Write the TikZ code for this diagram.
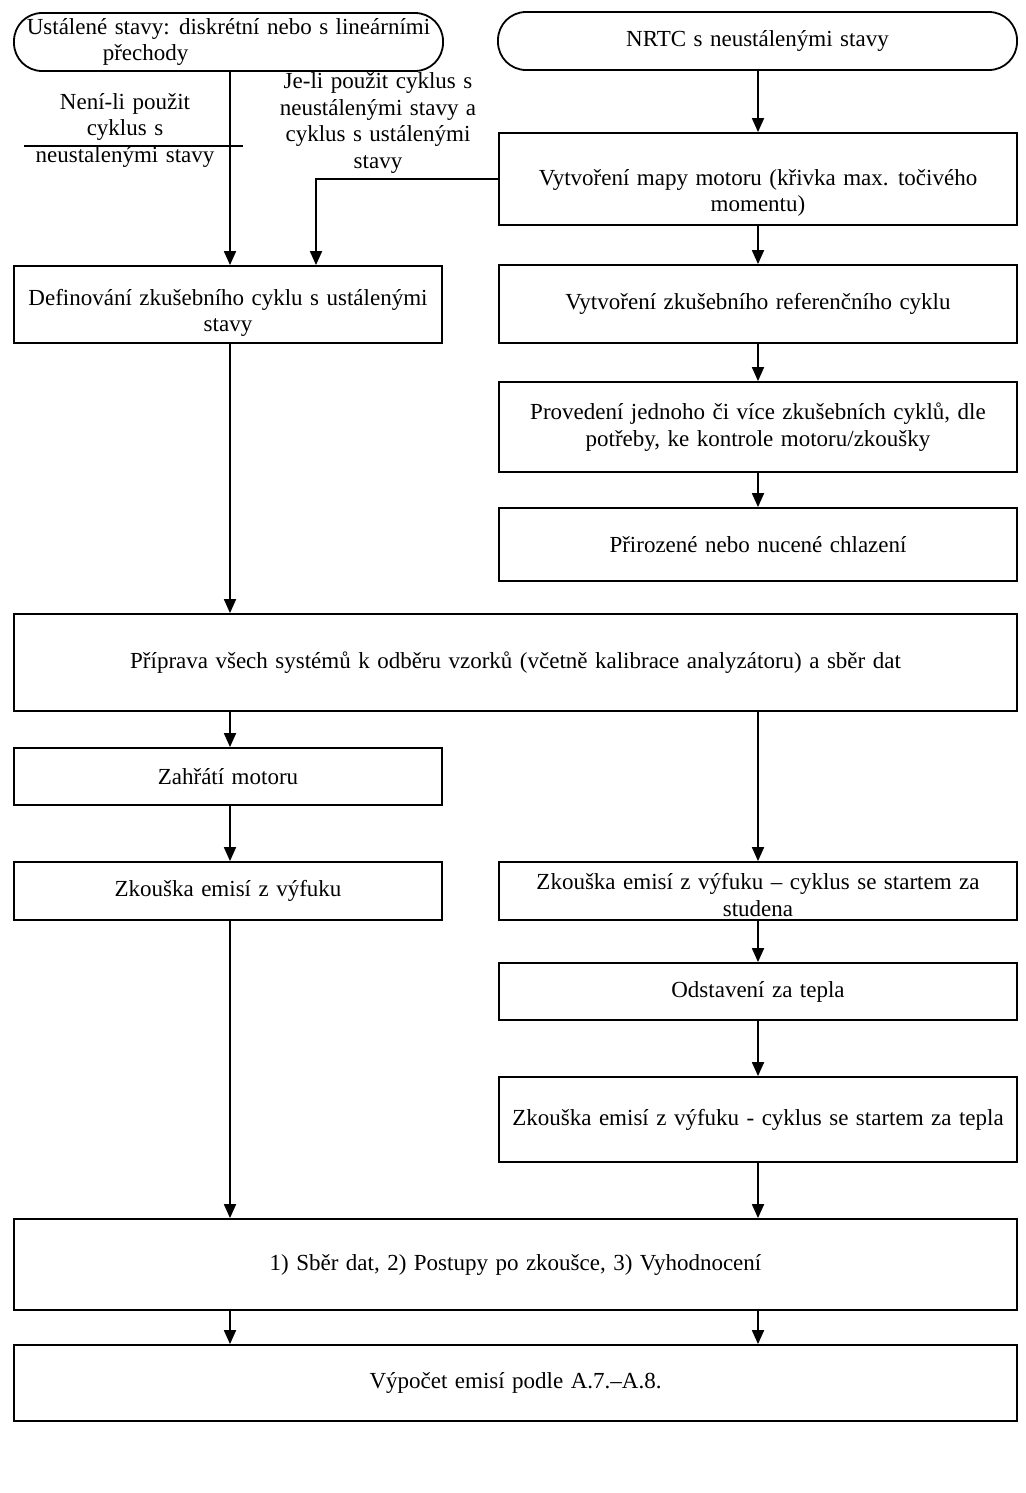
\documentclass[tikz,border=0pt]{standalone}
\usepackage{fontspec}
\setmainfont[WordSpace=1.3]{Liberation Serif}
\usetikzlibrary{arrows.meta}
\begin{document}
\begin{tikzpicture}[x=1pt,y=-1pt,
  every node/.style={font=\fontsize{23}{26.5}\selectfont, inner sep=0pt, align=center},
  box/.style={draw, line width=1.8pt, rectangle},
  term/.style={draw, line width=1.8pt, rounded corners=28pt},
  arr/.style={line width=1.8pt, -{Triangle[length=14pt,width=12pt]}},
  ln/.style={line width=1.8pt},
]
\fill[white] (0,0) rectangle (1025,1493);
\useasboundingbox (0,0) rectangle (1025,1493);

% terminals
\node[term, minimum width=429pt, minimum height=58pt, align=left] (r1) at (228.5,42) {Ustálené stavy: diskrétní nebo s lineárními\\\hspace*{76pt}přechody};
\node[term, minimum width=519pt, minimum height=58pt] (r2) at (757.5,41) {NRTC s neustálenými stavy};

% right column
\node[box, minimum width=518pt, minimum height=92pt] (mapa) at (758,179) {};
\node (mapat) at (758,193) {Vytvoření mapy motoru (křivka max. točivého\\momentu)};
\node[box, minimum width=518pt, minimum height=78pt] (ref) at (758,304) {Vytvoření zkušebního referenčního cyklu};
\node[box, minimum width=518pt, minimum height=90pt] (prov) at (758,427) {Provedení jednoho či více zkušebních cyklů, dle\\potřeby, ke kontrole motoru/zkoušky};
\node[box, minimum width=518pt, minimum height=73pt] (chl) at (758,544.5) {Přirozené nebo nucené chlazení};

% left column
\node[box, minimum width=428pt, minimum height=77pt] (def) at (228,304.5) {};
\node (deft) at (228,313) {Definování zkušebního cyklu s ustálenými\\stavy};

% full width
\node[box, minimum width=1003pt, minimum height=97pt] (prip) at (515.5,662.5) {Příprava všech systémů k odběru vzorků (včetně kalibrace analyzátoru) a sběr dat};

\node[box, minimum width=428pt, minimum height=57pt] (zah) at (228,776.5) {Zahřátí motoru};
\node[box, minimum width=428pt, minimum height=58pt] (zk) at (228,891) {Zkouška emisí z výfuku};

\node[box, minimum width=518pt, minimum height=58pt] (cold) at (758,891) {};
\node (coldt) at (758,895) {Zkouška emisí z výfuku – cyklus se startem za\\studena};
\node[box, minimum width=518pt, minimum height=57pt] (odst) at (758,991.5) {Odstavení za tepla};
\node[box, minimum width=518pt, minimum height=85pt] (hot) at (758,1119.5) {Zkouška emisí z výfuku - cyklus se startem za tepla};

\node[box, minimum width=1003pt, minimum height=91pt] (sber) at (515.5,1264.5) {1) Sběr dat, 2) Postupy po zkoušce, 3) Vyhodnocení};
\node[box, minimum width=1003pt, minimum height=76pt] (vyp) at (515.5,1383) {Výpočet emisí podle A.7.–A.8.};

% labels
\node (lab1) at (125,130) {Není-li použit\\cyklus s\\neustalenými stavy};
\node (lab2) at (378,123) {Je-li použit cyklus s\\neustálenými stavy a\\cyklus s ustálenými\\stavy};
\coordinate (h1) at (24,146);
\coordinate (h2) at (243,146);
\draw[ln] (h1) -- (h2);

% connectors
\coordinate (L) at (230,0);
\coordinate (R) at (758,0);
\coordinate (B) at (316,0);
\draw[arr] (r1.south -| L) -- (def.north -| L);
\draw[arr] (r2.south -| R) -- (mapa.north -| R);
\draw[arr] (mapa.west) -| (def.north -| B);
\draw[arr] (mapa.south -| R) -- (ref.north -| R);
\draw[arr] (ref.south -| R) -- (prov.north -| R);
\draw[arr] (prov.south -| R) -- (chl.north -| R);
\draw[arr] (def.south -| L) -- (prip.north -| L);
\draw[arr] (prip.south -| L) -- (zah.north -| L);
\draw[arr] (zah.south -| L) -- (zk.north -| L);
\draw[arr] (zk.south -| L) -- (sber.north -| L);
\draw[arr] (prip.south -| R) -- (cold.north -| R);
\draw[arr] (cold.south -| R) -- (odst.north -| R);
\draw[arr] (odst.south -| R) -- (hot.north -| R);
\draw[arr] (hot.south -| R) -- (sber.north -| R);
\draw[arr] (sber.south -| L) -- (vyp.north -| L);
\draw[arr] (sber.south -| R) -- (vyp.north -| R);
\end{tikzpicture}
\end{document}
